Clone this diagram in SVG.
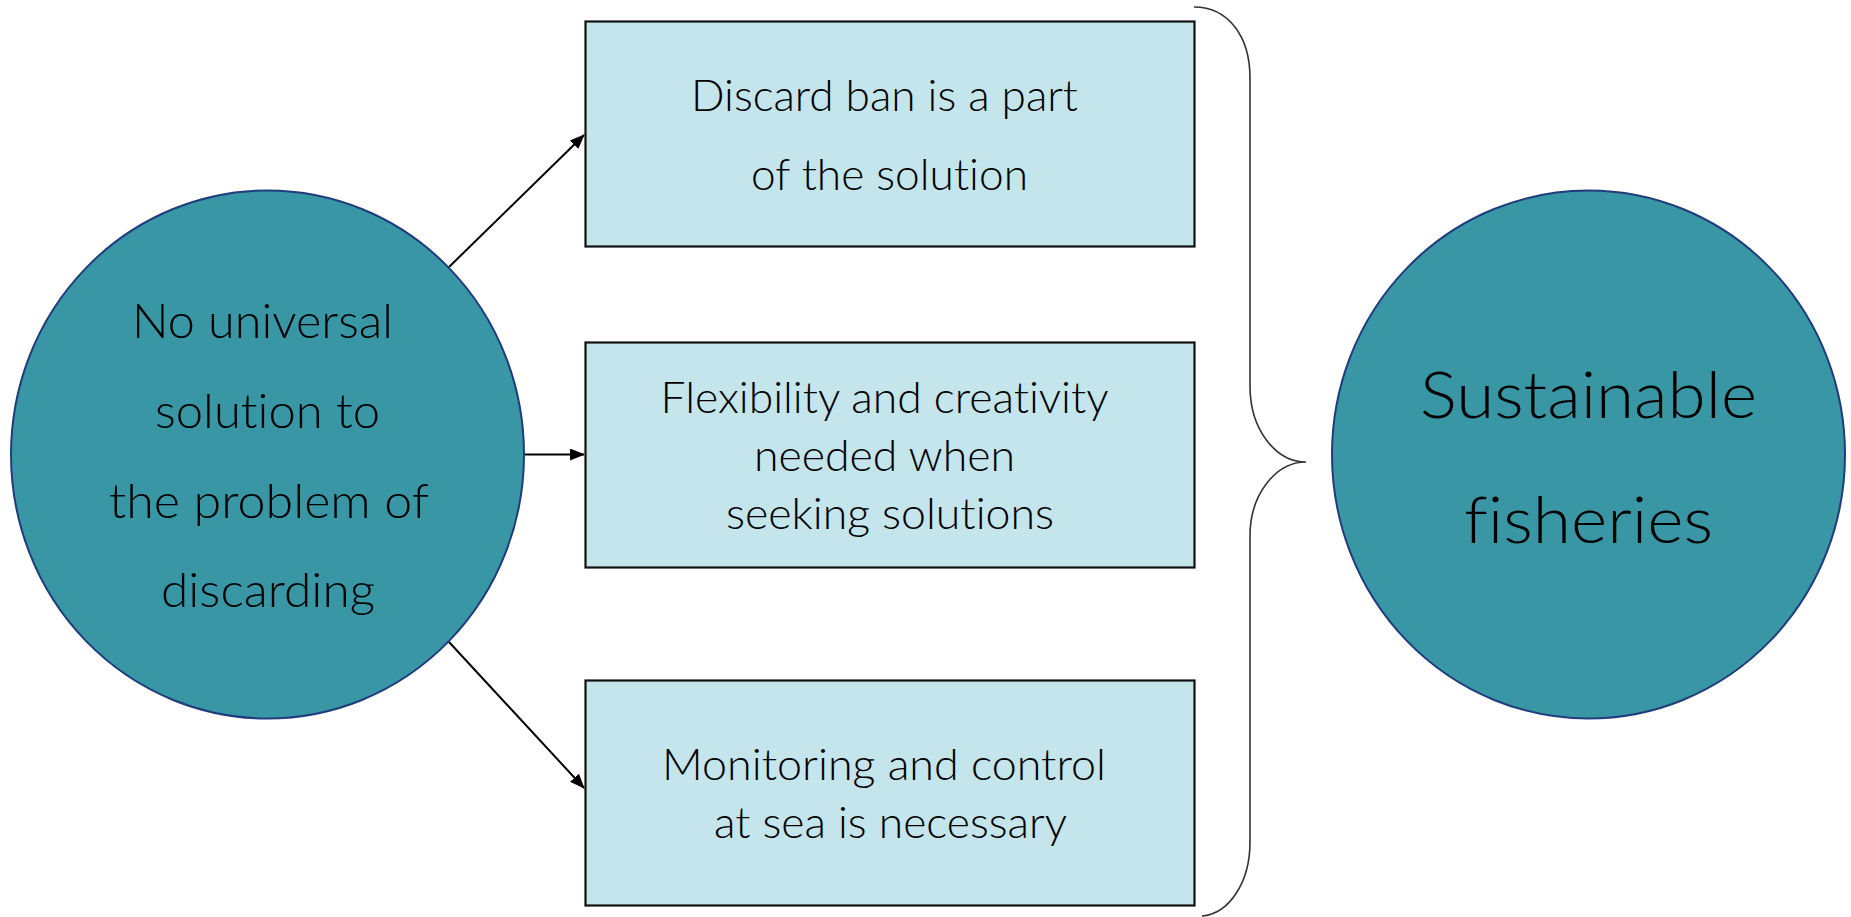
<svg xmlns="http://www.w3.org/2000/svg" width="1851" height="917" viewBox="0 0 1851 917">
<style>
.circ{fill:#3997A5;stroke:#1F3C7C;stroke-width:2}
.box{fill:#C4E5EB;stroke:#111;stroke-width:2.2}
.t{font-family:Lato,"Open Sans","Liberation Sans",sans-serif;font-weight:300;fill:#000;text-anchor:middle;font-variant-ligatures:none;font-feature-settings:"liga" 0,"clig" 0}
.c1{font-size:48px}
.c2{font-size:66px}
.b{font-size:44px}
.conn{stroke:#000;stroke-width:2;fill:none}
.brace{stroke:#333;stroke-width:1.6;fill:none}
</style>
<defs>
<marker id="ah" markerWidth="15" markerHeight="12" refX="14" refY="6" orient="auto" markerUnits="userSpaceOnUse" viewBox="0 0 15 12">
<path d="M0,0 L15,6 L0,12 Z" fill="#000"/>
</marker>
</defs>
<g id="connectors">
<line class="conn" x1="449" y1="267" x2="584" y2="135" marker-end="url(#ah)"/>
<line class="conn" x1="524" y1="454.5" x2="584" y2="454.5" marker-end="url(#ah)"/>
<line class="conn" x1="449" y1="642" x2="584" y2="788" marker-end="url(#ah)"/>
</g>
<g id="node-left">
<ellipse class="circ" cx="267.5" cy="454.5" rx="256.5" ry="264"/>
<text class="t c1" x="262.5" y="338" textLength="261" lengthAdjust="spacingAndGlyphs">No universal</text>
<text class="t c1" x="267.5" y="427.5" textLength="225" lengthAdjust="spacingAndGlyphs">solution to</text>
<text class="t c1" x="269" y="517.5" textLength="320" lengthAdjust="spacingAndGlyphs">the problem of</text>
<text class="t c1" x="268" y="607" textLength="214" lengthAdjust="spacingAndGlyphs">discarding</text>
</g>
<g id="box1">
<rect class="box" x="585.5" y="21.5" width="609" height="225"/>
<text class="t b" x="884.5" y="111" textLength="387" lengthAdjust="spacingAndGlyphs">Discard ban is a part</text>
<text class="t b" x="889.5" y="190" textLength="277" lengthAdjust="spacingAndGlyphs">of the solution</text>
</g>
<g id="box2">
<rect class="box" x="585.5" y="342.5" width="609" height="225"/>
<text class="t b" x="884.5" y="413" textLength="448" lengthAdjust="spacingAndGlyphs">Flexibility and creativity</text>
<text class="t b" x="884.5" y="470.5" textLength="261" lengthAdjust="spacingAndGlyphs">needed when</text>
<text class="t b" x="890" y="528.5" textLength="328" lengthAdjust="spacingAndGlyphs">seeking solutions</text>
</g>
<g id="box3">
<rect class="box" x="585.5" y="680.5" width="609" height="225"/>
<text class="t b" x="884" y="780" textLength="444" lengthAdjust="spacingAndGlyphs">Monitoring and control</text>
<text class="t b" x="890.5" y="838" textLength="353" lengthAdjust="spacingAndGlyphs">at sea is necessary</text>
</g>
<g id="brace">
<path class="brace" d="M1194,7 C1228,7 1250,36 1250,78 L1250,386 C1250,430 1276,462 1306,462 C1276,462 1250,494 1250,536 L1250,842 C1250,884 1228,914 1202,916"/>
</g>
<g id="node-right">
<ellipse class="circ" cx="1588.5" cy="454.5" rx="256.5" ry="264"/>
<text class="t c2" x="1588.5" y="418" textLength="337" lengthAdjust="spacingAndGlyphs">Sustainable</text>
<text class="t c2" x="1588.5" y="542.5" textLength="249" lengthAdjust="spacingAndGlyphs">fisheries</text>
</g>
</svg>
